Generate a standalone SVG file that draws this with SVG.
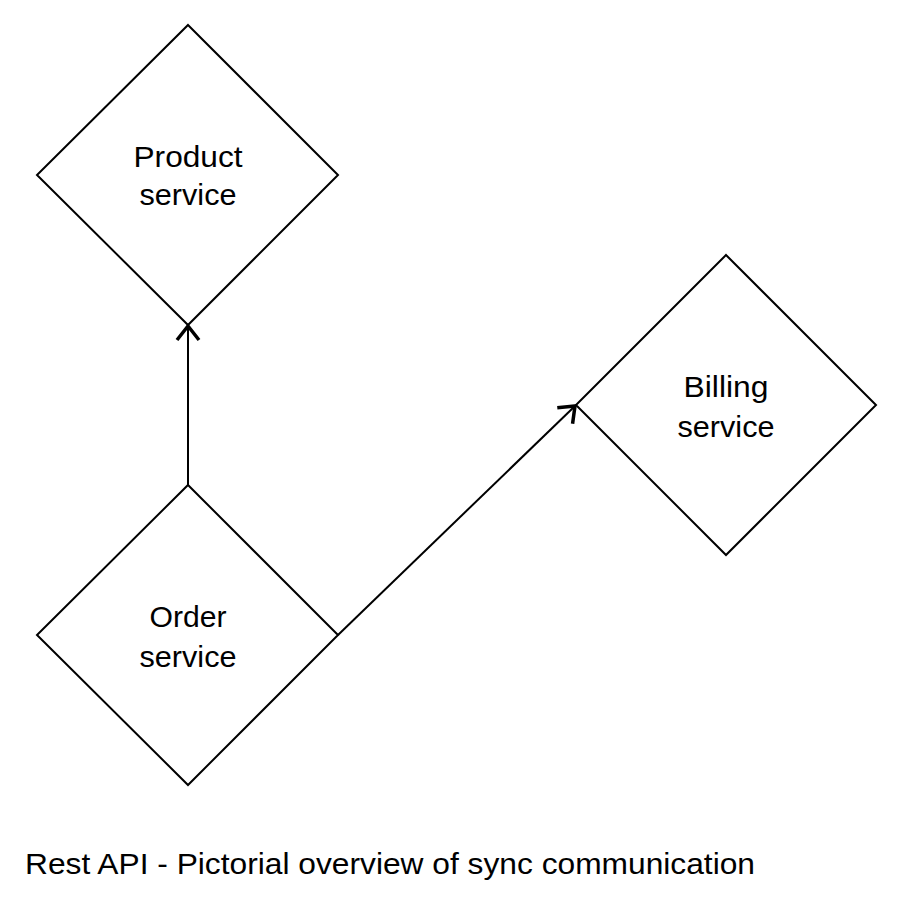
<svg xmlns="http://www.w3.org/2000/svg" width="917" height="900" viewBox="0 0 917 900">
<style>
.node{fill:#fff;stroke:#000;stroke-width:2}
.lbl{font-family:"Liberation Sans",Arial,sans-serif;font-size:30px;fill:#000;text-anchor:middle}
.edge{fill:none;stroke:#000;stroke-width:2}
.cap{font-family:"Liberation Sans",Arial,sans-serif;font-size:30px;fill:#000}
</style>
<defs>
<marker id="arr" viewBox="0 0 20 26" refX="17" refY="13" markerWidth="20" markerHeight="26" markerUnits="userSpaceOnUse" orient="auto">
<path d="M3,2 L17,13 L3,24" fill="none" stroke="#000" stroke-width="3.5"/>
</marker>
</defs>
<rect width="917" height="900" fill="#fff"/>
<g id="product">
<polygon class="node" points="188,25 338,175 188,325 37,175"/>
<text class="lbl" x="188" y="167" textLength="109" lengthAdjust="spacingAndGlyphs">Product</text>
<text class="lbl" x="188" y="205" textLength="97" lengthAdjust="spacingAndGlyphs">service</text>
</g>
<g id="billing">
<polygon class="node" points="726,255 876,405 726,555 576,405"/>
<text class="lbl" x="726" y="397" textLength="85" lengthAdjust="spacingAndGlyphs">Billing</text>
<text class="lbl" x="726" y="437" textLength="97" lengthAdjust="spacingAndGlyphs">service</text>
</g>
<g id="order">
<polygon class="node" points="188,485 338,635 188,785 37,635"/>
<text class="lbl" x="188" y="627" textLength="77" lengthAdjust="spacingAndGlyphs">Order</text>
<text class="lbl" x="188" y="667" textLength="97" lengthAdjust="spacingAndGlyphs">service</text>
</g>
<g id="edges">
<line class="edge" x1="188" y1="485" x2="188" y2="326" marker-end="url(#arr)"/>
<line class="edge" x1="338" y1="635" x2="575" y2="406" marker-end="url(#arr)"/>
</g>
<text class="cap" x="25" y="874" textLength="730" lengthAdjust="spacingAndGlyphs">Rest API - Pictorial overview of sync communication</text>
</svg>
